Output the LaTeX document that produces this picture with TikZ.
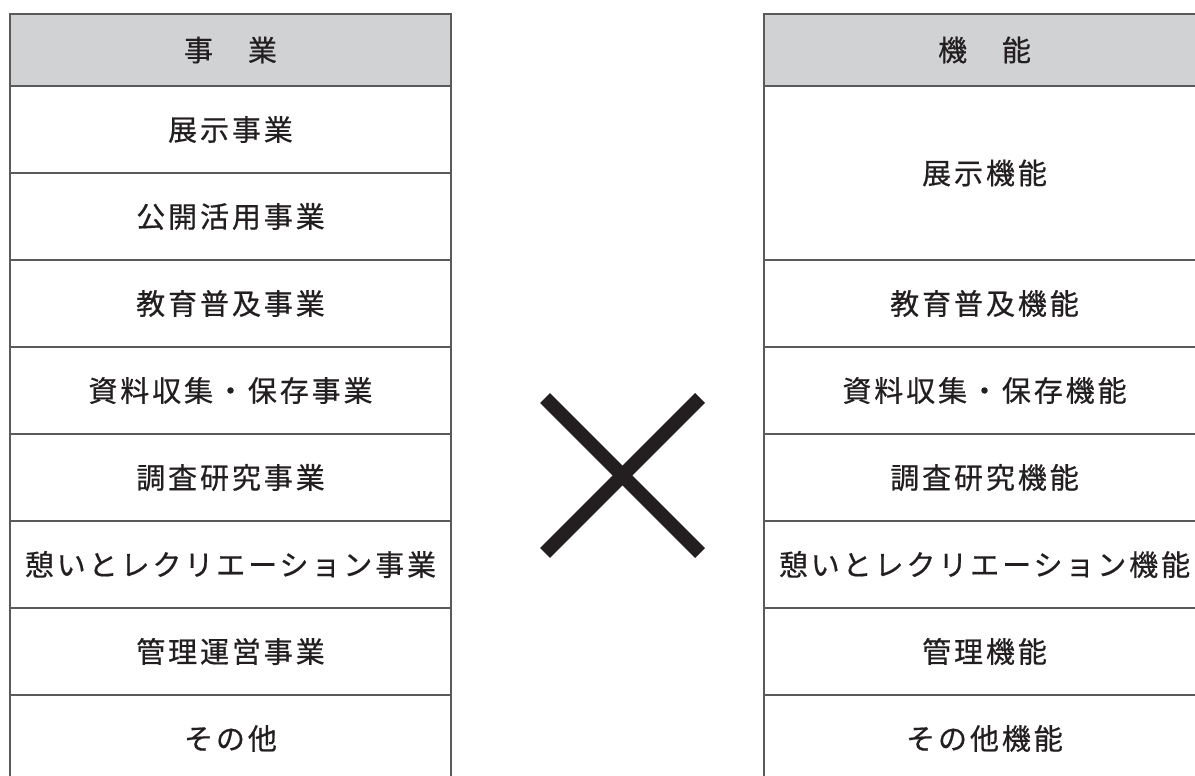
\documentclass[tikz,border=0pt]{standalone}
\usepackage{fontspec}
\newfontfamily\jp[LetterSpace=10,FakeBold=0.6]{Noto Sans CJK JP}
\definecolor{hdr}{HTML}{D1D2D4}
\definecolor{txt}{HTML}{231F20}
\definecolor{rulec}{HTML}{5A5A5A}
\begin{document}
\begin{tikzpicture}[x=1pt,y=-1pt,
  cell/.style={draw=rulec, line width=1.4pt, minimum width=441pt, inner sep=0pt,
    font=\jp\fontsize{29}{32}\selectfont, text=txt},
  headcell/.style={cell, fill=hdr, minimum height=72pt},
  row/.style={cell, minimum height=87pt},
  crossbar/.style={draw=txt, line width=14pt}]
\useasboundingbox (0,0) rectangle (1195,776);
% left table
\node[headcell] (lh) at (230.5,50) {事　業};
\node[row] (l1) at (230.5,129.5) {展示事業};
\node[row] (l2) at (230.5,216.5) {公開活用事業};
\node[row] (l3) at (230.5,303.5) {教育普及事業};
\node[row] (l4) at (230.5,390.5) {資料収集・保存事業};
\node[row] (l5) at (230.5,477.5) {調査研究事業};
\node[row] (l6) at (230.5,564.5) {憩いとレクリエーション事業};
\node[row] (l7) at (230.5,651.5) {管理運営事業};
\node[row, minimum height=95pt] (l8) at (230.5,742.5) {};
\node[font=\jp\fontsize{29}{32}\selectfont, text=txt] (l8t) at (230.5,738.5) {その他};
% right table
\node[headcell] (rh) at (984.5,50) {機　能};
\node[cell, minimum height=174pt] (r1) at (984.5,173) {展示機能};
\node[row] (r2) at (984.5,303.5) {教育普及機能};
\node[row] (r3) at (984.5,390.5) {資料収集・保存機能};
\node[row] (r4) at (984.5,477.5) {調査研究機能};
\node[row] (r5) at (984.5,564.5) {憩いとレクリエーション機能};
\node[row] (r6) at (984.5,651.5) {管理機能};
\node[row, minimum height=95pt] (r7) at (984.5,742.5) {};
\node[font=\jp\fontsize{29}{32}\selectfont, text=txt] (r7t) at (984.5,738.5) {その他機能};
% cross
\coordinate (xa) at (545,398);
\coordinate (xb) at (700,553);
\coordinate (xc) at (700,398);
\coordinate (xd) at (545,553);
\draw[crossbar] (xa) -- (xb);
\draw[crossbar] (xc) -- (xd);
\end{tikzpicture}
\end{document}
